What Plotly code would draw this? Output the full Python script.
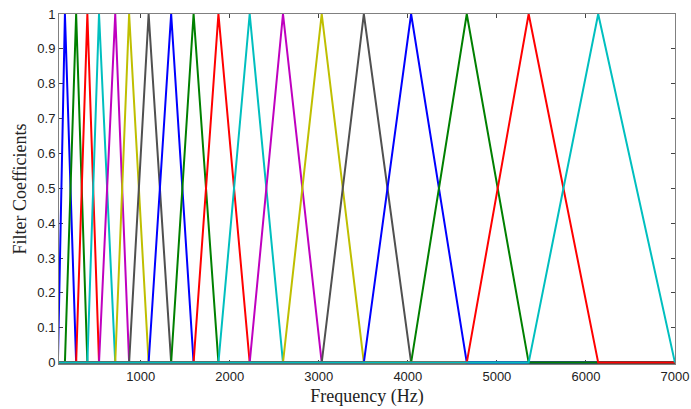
import plotly.graph_objects as go

# Filter bank definition (Hz)
f_low = 70            # left edge of the first filter
f_high = 7000         # right edge of the last filter
centers = [149, 275, 401, 532, 714, 870, 1089, 1342, 1594, 1873,
           2224, 2598, 3033, 3506, 4037, 4662, 5357, 6138]
x_ticks = [1000, 2000, 3000, 4000, 5000, 6000, 7000]
y_ticks = [0, 0.1, 0.2, 0.3, 0.4, 0.5, 0.6, 0.7, 0.8, 0.9, 1]
y_tick_text = ["0", "0.1", "0.2", "0.3", "0.4", "0.5", "0.6", "0.7", "0.8", "0.9", "1"]
x_min = 82.5

colors = ["rgb(0,0,255)", "rgb(0,128,0)", "rgb(255,0,0)", "rgb(0,191,191)",
          "rgb(191,0,191)", "rgb(191,191,0)", "rgb(80,80,80)"]

edges = [f_low] + centers + [f_high]

fig = go.Figure()
for i in range(len(centers)):
    left, mid, right = edges[i], edges[i + 1], edges[i + 2]
    xs = [left, mid, right]
    ys = [0, 1, 0]
    if left > f_low:
        xs = [f_low] + xs
        ys = [0] + ys
    if right < f_high:
        xs = xs + [f_high]
        ys = ys + [0]
    fig.add_trace(go.Scatter(x=xs, y=ys, mode="lines",
                             line=dict(color=colors[i % len(colors)], width=2),
                             showlegend=False, hoverinfo="skip"))

axis_common = dict(
    showgrid=False, zeroline=False, showline=True, linecolor="#808080",
    linewidth=1, mirror="ticks", ticks="inside", ticklen=4, tickcolor="#444",
    tickfont=dict(family="Liberation Sans, Arial", size=13, color="#222"),
    layer="below traces", automargin=False, ticklabeloverflow="allow",
)

fig.update_layout(
    width=691, height=409,
    margin=dict(l=59, r=16, t=14, b=45),
    paper_bgcolor="white", plot_bgcolor="white",
    xaxis=dict(range=[x_min, f_high + 0.5], tickvals=x_ticks,
               title=dict(text="Frequency (Hz)", standoff=6,
                          font=dict(family="Liberation Serif, Times New Roman", size=18, color="#222")),
               **axis_common),
    yaxis=dict(range=[-0.004, 1], tickvals=y_ticks, ticktext=y_tick_text,
               title=dict(text="Filter Coefficients", standoff=6,
                          font=dict(family="Liberation Serif, Times New Roman", size=18, color="#222")),
               **axis_common),
)

fig.write_html("out.html")
